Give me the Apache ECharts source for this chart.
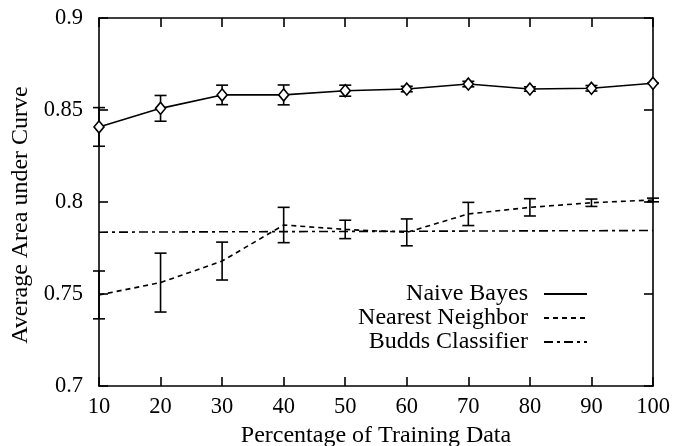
<!DOCTYPE html>
<html>
<head>
<meta charset="utf-8">
<script src="https://cdn.jsdelivr.net/npm/echarts@6/dist/echarts.min.js"></script>
<style>html,body{margin:0;padding:0;background:#fff;}#c{width:673px;height:446px;}</style>
</head>
<body>
<div id="c"></div>
<script>
const xValues = [10, 20, 30, 40, 50, 60, 70, 80, 90, 100];
const nbMean = [0.8408, 0.8509, 0.8582, 0.8582, 0.8605, 0.8614, 0.8641, 0.8614, 0.8618, 0.8645];
const nbErr  = [0.0105, 0.0070, 0.0053, 0.0054, 0.0030, 0.0015, 0.0015, 0.0012, 0.0015, 0.0000];
const nnMean = [0.7495, 0.7562, 0.7679, 0.7875, 0.7851, 0.7835, 0.7935, 0.7971, 0.7996, 0.8011];
const nnErr  = [0.0130, 0.0160, 0.0103, 0.0096, 0.0050, 0.0073, 0.0063, 0.0047, 0.0020, 0.0010];
const buddsVal = [0.7836, 0.7837, 0.7838, 0.7839, 0.7840, 0.7841, 0.7842, 0.7843, 0.7844, 0.7845];
const xTicks = [10, 20, 30, 40, 50, 60, 70, 80, 90, 100];
const yTicks = [0.7, 0.75, 0.8, 0.85, 0.9];

const FONT = 'Liberation Serif';
const chart = echarts.init(document.getElementById('c'));

function pairs(xs, ys) { return xs.map((x, i) => [x, ys[i]]); }
function errData(xs, m, e) { return xs.map((x, i) => [x, m[i] - e[i], m[i] + e[i], m[i]]); }

function errRender(params, api) {
  const x = api.value(0);
  const lo = api.coord([x, api.value(1)]);
  const hi = api.coord([x, api.value(2)]);
  const w = 6;
  const st = { stroke: '#000', lineWidth: 1.6 };
  return {
    type: 'group',
    children: [
      { type: 'line', shape: { x1: lo[0], y1: lo[1], x2: hi[0], y2: hi[1] }, style: st },
      { type: 'line', shape: { x1: lo[0] - w, y1: lo[1], x2: lo[0] + w, y2: lo[1] }, style: st },
      { type: 'line', shape: { x1: hi[0] - w, y1: hi[1], x2: hi[0] + w, y2: hi[1] }, style: st }
    ]
  };
}

const axisCommon = {
  axisLine: { show: true, lineStyle: { color: '#000', width: 1.6 } },
  axisTick: { show: true, inside: true, length: 9, lineStyle: { color: '#000', width: 1.6 } },
  splitLine: { show: false }
};

const legendCommon = {
  orient: 'vertical',
  align: 'right',
  itemWidth: 43,
  itemHeight: 14,
  padding: 0,
  selectedMode: false,
  itemStyle: { color: 'rgba(0,0,0,0)', borderColor: 'rgba(0,0,0,0)', borderWidth: 0 },
  textStyle: { fontFamily: FONT, fontSize: 24, color: '#000', padding: [0, 11, 0, 0] }
};

chart.setOption({
  animation: false,
  backgroundColor: '#fff',
  grid: { left: 99, right: 20, top: 18, bottom: 60, outerBoundsMode: 'none', containLabel: false },
  legend: [
    Object.assign({}, legendCommon, { data: ['Naive Bayes'], right: 85, top: 282 }),
    Object.assign({}, legendCommon, { data: ['Nearest Neighbor'], right: 85, top: 306 }),
    Object.assign({}, legendCommon, { data: ['Budds Classifier'], right: 85, top: 330 })
  ],
  xAxis: [
    Object.assign({}, axisCommon, {
      type: 'value', min: 10, max: 100, interval: 10, position: 'bottom',
      name: 'Percentage of Training Data', nameLocation: 'middle', nameGap: 31,
      nameTextStyle: { fontFamily: FONT, fontSize: 24, color: '#000' },
      axisLabel: { fontFamily: FONT, fontSize: 22.5, color: '#000', margin: 10,
        customValues: xTicks }
    }),
    Object.assign({}, axisCommon, {
      type: 'value', min: 10, max: 100, interval: 10, position: 'top',
      axisLabel: { show: false }
    })
  ],
  yAxis: [
    Object.assign({}, axisCommon, {
      type: 'value', min: 0.7, max: 0.9, interval: 0.05, position: 'left',
      name: 'Average Area under Curve', nameLocation: 'middle', nameGap: 66,
      nameTextStyle: { fontFamily: FONT, fontSize: 24, color: '#000', padding: [0, 26, 0, 0] },
      axisLabel: { fontFamily: FONT, fontSize: 22.5, color: '#000', margin: 16 }
    }),
    Object.assign({}, axisCommon, {
      type: 'value', min: 0.7, max: 0.9, interval: 0.05, position: 'right',
      axisLabel: { show: false }
    })
  ],
  series: [
    {
      name: 'Naive Bayes', type: 'line', data: pairs(xValues, nbMean),
      symbol: 'none', lineStyle: { color: '#000', width: 1.6, type: 'solid' },
      itemStyle: { color: '#000' }, z: 3
    },
    {
      name: 'Nearest Neighbor', type: 'line', data: pairs(xValues, nnMean),
      symbol: 'none', lineStyle: { color: '#000', width: 1.6, type: [5, 4] },
      itemStyle: { color: '#000' }, z: 3
    },
    {
      name: 'Budds Classifier', type: 'line', data: pairs(xValues, buddsVal),
      symbol: 'none', lineStyle: { color: '#000', width: 1.6, type: [9, 4, 3, 4] },
      itemStyle: { color: '#000' }, z: 3
    },
    {
      name: 'nbErr', type: 'custom', renderItem: errRender,
      data: errData(xValues, nbMean, nbErr), z: 4, silent: true
    },
    {
      name: 'nnErr', type: 'custom', renderItem: errRender,
      data: errData(xValues, nnMean, nnErr), z: 4, silent: true
    },
    {
      name: 'nbMarkers', type: 'scatter', data: pairs(xValues, nbMean),
      symbol: 'diamond', symbolSize: [10, 12],
      itemStyle: { color: '#fff', borderColor: '#000', borderWidth: 1.6, opacity: 1 }, z: 5, silent: true
    },
    {
      name: 'nnMarkers', type: 'scatter', data: pairs(xValues, nnMean),
      symbol: 'path://M0,5 L10,5', symbolSize: [12, 2],
      itemStyle: { color: '#000', borderColor: '#000', borderWidth: 1.6, opacity: 1 }, z: 5, silent: true
    }
  ]
});
</script>
</body>
</html>
